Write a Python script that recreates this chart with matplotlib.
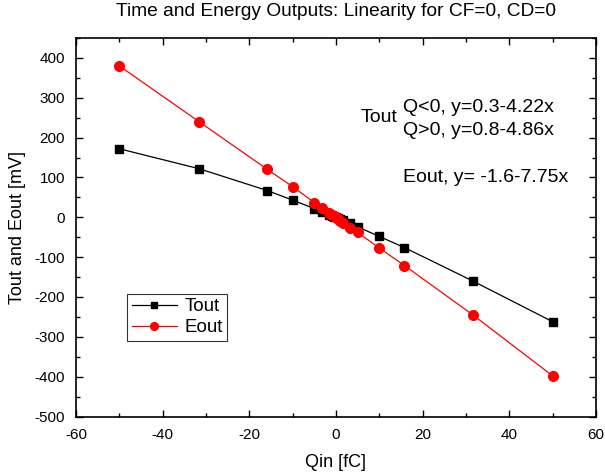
import matplotlib
matplotlib.use("Agg")
import matplotlib.pyplot as plt
from matplotlib.ticker import MultipleLocator

plt.rcParams['font.family'] = ['Liberation Sans', 'DejaVu Sans']
plt.rcParams['axes.unicode_minus'] = False

qin = [-50, -31.6, -15.8, -10, -5, -3.16, -1.58, -1, -0.5, 0, 0.5, 1, 1.58, 3.16, 5, 10, 15.8, 31.6, 50]
tout = [172, 122, 67, 43, 22, 13, 6, 4, 2, 0, -2, -4, -7, -15, -24, -48, -76, -160, -262]
eout = [380, 240, 120, 77, 37, 23, 11, 7, 3, 0, -5, -9, -14, -26, -38, -77, -121, -245, -398]

fig = plt.figure(figsize=(6.05, 4.74), dpi=100)
ax = fig.add_axes([0.1256, 0.1213, 0.8594, 0.7985])

ax.plot(qin, tout, color='black', lw=0.9, marker='s', ms=5.8, label='Tout')
ax.plot(qin, eout, color='red', lw=0.9, marker='o', ms=7, label='Eout')

ax.set_xlim(-60, 60)
ax.set_ylim(-500, 450)
ax.xaxis.set_major_locator(MultipleLocator(20))
ax.xaxis.set_minor_locator(MultipleLocator(10))
ax.yaxis.set_major_locator(MultipleLocator(100))
ax.yaxis.set_minor_locator(MultipleLocator(50))
ax.tick_params(which='both', direction='in', top=True, right=True, labelsize=11, width=1)
ax.tick_params(which='major', length=5)
ax.tick_params(axis='x', which='major', pad=8)
ax.tick_params(axis='y', which='major', pad=8)
ax.tick_params(which='minor', length=3)
for s in ax.spines.values():
    s.set_linewidth(1.2)

ax.set_xlabel('Qin [fC]', fontsize=13, labelpad=9)
ax.set_ylabel('Tout and Eout [mV]', fontsize=13, labelpad=6)
ax.set_title('Time and Energy Outputs: Linearity for CF=0, CD=0', fontsize=13.8, pad=16)

ax.text(14.3, 250, 'Tout', fontsize=14, va='center', ha='right')
ax.text(15.5, 275, 'Q<0, y=0.3-4.22x', fontsize=14, va='center', ha='left')
ax.text(15.5, 217, 'Q>0, y=0.8-4.86x', fontsize=14, va='center', ha='left')
ax.text(15.5, 100, 'Eout, y= -1.6-7.75x', fontsize=14, va='center', ha='left')

leg = ax.legend(loc='lower left', bbox_to_anchor=(0.098, 0.1995), fontsize=13.5,
                frameon=True, fancybox=False, edgecolor='black', handlelength=2.4,
                borderpad=0.25, labelspacing=0.2, handletextpad=0.4, borderaxespad=0,
                markerscale=0.8)
leg.get_frame().set_linewidth(0.8)

fig.savefig('out.png', dpi=100)
